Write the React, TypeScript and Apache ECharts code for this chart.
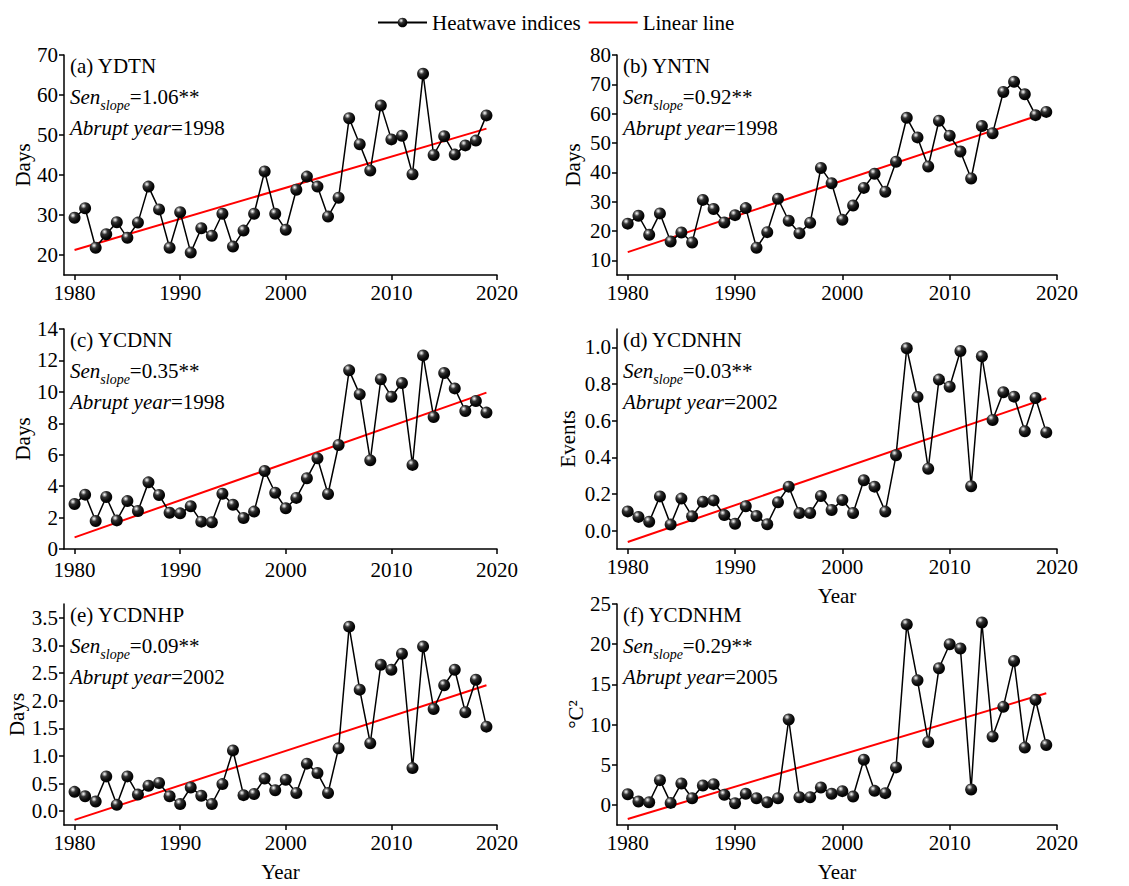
import { useEffect, useRef } from 'react';
import * as echarts from 'echarts';

const years = [1980,1981,1982,1983,1984,1985,1986,1987,1988,1989,1990,1991,1992,1993,1994,1995,1996,1997,1998,1999,2000,2001,2002,2003,2004,2005,2006,2007,2008,2009,2010,2011,2012,2013,2014,2015,2016,2017,2018,2019];

const ydtn = [29.3,31.7,21.8,25.2,28.2,24.3,28.1,37.1,31.4,21.8,30.7,20.6,26.7,24.8,30.3,22.1,26.1,30.3,40.9,30.3,26.3,36.3,39.6,37.1,29.6,34.3,54.2,47.7,41.1,57.4,48.9,49.8,40.2,65.3,45.0,49.7,45.1,47.4,48.6,54.9];
const yntn = [22.5,25.2,18.7,26.0,16.4,19.5,16.1,30.6,27.5,22.9,25.4,27.8,14.3,19.6,31.0,23.5,19.2,22.8,41.5,36.3,23.8,28.7,34.7,39.5,33.4,43.6,58.6,51.9,42.0,57.6,52.5,47.1,37.9,55.8,53.3,67.4,70.9,66.6,59.5,60.6];
const ycdnn = [2.86,3.46,1.78,3.31,1.82,3.05,2.42,4.24,3.44,2.31,2.27,2.72,1.74,1.70,3.52,2.82,1.97,2.38,4.96,3.58,2.59,3.25,4.50,5.77,3.50,6.62,11.37,9.84,5.64,10.80,9.69,10.56,5.35,12.32,8.40,11.20,10.22,8.78,9.42,8.68];
const ycdnhn = [0.105,0.075,0.049,0.187,0.033,0.175,0.078,0.158,0.165,0.085,0.038,0.133,0.080,0.035,0.155,0.240,0.096,0.096,0.189,0.113,0.167,0.096,0.275,0.240,0.104,0.411,0.995,0.729,0.338,0.824,0.785,0.980,0.242,0.951,0.604,0.755,0.731,0.542,0.724,0.536];
const ycdnhp = [0.35,0.27,0.175,0.63,0.115,0.63,0.30,0.46,0.51,0.27,0.13,0.43,0.28,0.13,0.49,1.10,0.29,0.31,0.59,0.38,0.57,0.33,0.86,0.69,0.33,1.14,3.34,2.20,1.23,2.65,2.56,2.85,0.78,2.98,1.85,2.28,2.56,1.79,2.38,1.53];
const ycdnhm = [1.33,0.42,0.33,3.08,0.25,2.67,0.83,2.42,2.58,1.25,0.21,1.38,0.83,0.33,0.83,10.63,0.96,0.96,2.17,1.38,1.71,1.04,5.63,1.75,1.46,4.67,22.46,15.5,7.83,17.0,20.0,19.46,1.92,22.7,8.5,12.2,17.9,7.13,13.08,7.46];

const panelValues = [ydtn, yntn, ycdnn, ycdnhn, ycdnhp, ycdnhm];
const panelTitles = ['(a) YDTN', '(b) YNTN', '(c) YCDNN', '(d) YCDNHN', '(e) YCDNHP', '(f) YCDNHM'];
const senSlopes = ['1.06', '0.92', '0.35', '0.03', '0.09', '0.29'];
const abruptYears = ['1998', '1998', '1998', '2002', '2002', '2005'];
const yAxisNames = ['Days', 'Days', 'Days', 'Events', 'Days', '°C²'];
const linearStart = [21.25, 12.8, 0.74, -0.062, -0.157, -1.75];
const linearEnd = [51.6, 60.3, 9.95, 0.722, 2.28, 13.9];
const yMins = [15, 5, 0, -0.1, -0.25, -2.5];
const yMaxs = [70, 80, 14, 1.1, 3.75, 25];
const yTicks = [
  [20, 30, 40, 50, 60, 70],
  [10, 20, 30, 40, 50, 60, 70, 80],
  [0, 2, 4, 6, 8, 10, 12, 14],
  [0, 0.2, 0.4, 0.6, 0.8, 1.0],
  [0, 0.5, 1.0, 1.5, 2.0, 2.5, 3.0, 3.5],
  [0, 5, 10, 15, 20, 25],
];
const yDecimals = [0, 0, 0, 1, 1, 0];
const xTicks = [1980, 1990, 2000, 2010, 2020];
const xMin = 1979;
const xMax = 2020;
const showYearName = [false, false, false, true, true, true];

// layout (pixels)
const colLeft = [64, 617];
const colWidth = [433, 440];
const rowTop = [55, 329, 604];
const rowHeight = [220, 220, 221];
const yNameGaps = [31, 34, 30, 39, 36, 31];
const xLabelMargins = [9, 9, 12, 9, 9, 9];

const FONT = '"Liberation Serif", "Times New Roman", serif';

const sphere = {
  type: 'radial', x: 0.36, y: 0.3, r: 0.75,
  colorStops: [
    { offset: 0, color: '#ffffff' },
    { offset: 0.12, color: '#b8b8b8' },
    { offset: 0.32, color: '#333333' },
    { offset: 0.7, color: '#080808' },
    { offset: 1, color: '#000000' },
  ],
};

function buildOption() {
  const grid: any[] = [];
  const xAxis: any[] = [];
  const yAxis: any[] = [];
  const series: any[] = [];
  const graphic: any[] = [];
  for (let p = 0; p < 6; p++) {
    const col = p % 2;
    const row = Math.floor(p / 2);
    const left = colLeft[col];
    const top = rowTop[row];
    grid.push({ left, top, width: colWidth[col], height: rowHeight[row], containLabel: false });
    const axisLine = { show: true, onZero: false, lineStyle: { color: '#000', width: 1.5 } };
    const axisTick = (vals: number[]) => ({ show: true, inside: false, length: 5, lineStyle: { color: '#000', width: 1.5 }, customValues: vals });
    xAxis.push({
      type: 'value', gridIndex: p, min: xMin, max: xMax,
      axisLine, axisTick: axisTick(xTicks),
      axisLabel: { customValues: xTicks, color: '#000', fontFamily: FONT, fontSize: 21, lineHeight: 17, margin: xLabelMargins[p], formatter: (v: number) => String(v) },
      splitLine: { show: false },
      name: showYearName[p] ? 'Year' : '',
      nameLocation: 'middle', nameGap: 36,
      nameTextStyle: { color: '#000', fontFamily: FONT, fontSize: 21 },
    });
    const dec = yDecimals[p];
    yAxis.push({
      type: 'value', gridIndex: p, min: yMins[p], max: yMaxs[p],
      axisLine, axisTick: axisTick(yTicks[p]),
      axisLabel: { customValues: yTicks[p], color: '#000', fontFamily: FONT, fontSize: 21, lineHeight: 14, margin: 6, formatter: (v: number) => v.toFixed(dec) },
      splitLine: { show: false },
      name: yAxisNames[p], nameLocation: 'middle', nameGap: yNameGaps[p], nameRotate: 90,
      nameTextStyle: { color: '#000', fontFamily: FONT, fontSize: 21 },
    });
    series.push({
      name: 'Linear line', type: 'line', xAxisIndex: p, yAxisIndex: p,
      data: [[years[0], linearStart[p]], [years[years.length - 1], linearEnd[p]]],
      symbol: 'none', lineStyle: { color: '#ff0000', width: 2 }, itemStyle: { color: '#ff0000' }, z: 2,
    });
    series.push({
      name: 'Heatwave indices', type: 'line', xAxisIndex: p, yAxisIndex: p,
      data: years.map((y, i) => [y, panelValues[p][i]]),
      symbol: 'circle', symbolSize: 12, showAllSymbol: true,
      lineStyle: { color: '#000', width: 1.5 },
      itemStyle: { color: sphere, borderWidth: 0 }, z: 3,
    });
    graphic.push({
      type: 'text', x: left + 6, y: top - 5, z: 10,
      style: {
        text: `{n|${panelTitles[p]}}\n{i|Sen}{s|slope}{n|=${senSlopes[p]}**}\n{i|Abrupt year}{n|=${abruptYears[p]}}`,
        align: 'left', verticalAlign: 'top',
        fill: '#000', fontFamily: FONT, fontSize: 21,
        rich: {
          n: { fontFamily: FONT, fontSize: 21, lineHeight: 31, fill: '#000' },
          i: { fontFamily: FONT, fontSize: 21, fontStyle: 'italic', lineHeight: 31, fill: '#000' },
          s: { fontFamily: FONT, fontSize: 14, fontStyle: 'italic', lineHeight: 20, verticalAlign: 'bottom', fill: '#000' },
        },
      },
    });
  }
  return {
    animation: false,
    backgroundColor: '#fff',
    legend: {
      top: 7, left: 372,
      itemWidth: 49, itemHeight: 12, itemGap: 7,
      data: [
        { name: 'Heatwave indices' },
        { name: 'Linear line', itemStyle: { opacity: 0 } },
      ],
      textStyle: { color: '#000', fontFamily: FONT, fontSize: 21 },
    },
    grid, xAxis, yAxis, series, graphic,
  };
}

export default function App() {
  const ref = useRef<HTMLDivElement>(null);
  useEffect(() => {
    if (!ref.current) return;
    const chart = echarts.init(ref.current, undefined, { renderer: 'svg' });
    chart.setOption(buildOption() as any);
    return () => chart.dispose();
  }, []);
  return <div ref={ref} style={{ position: 'fixed', left: 0, top: 0, width: 1129, height: 886 }} />;
}
